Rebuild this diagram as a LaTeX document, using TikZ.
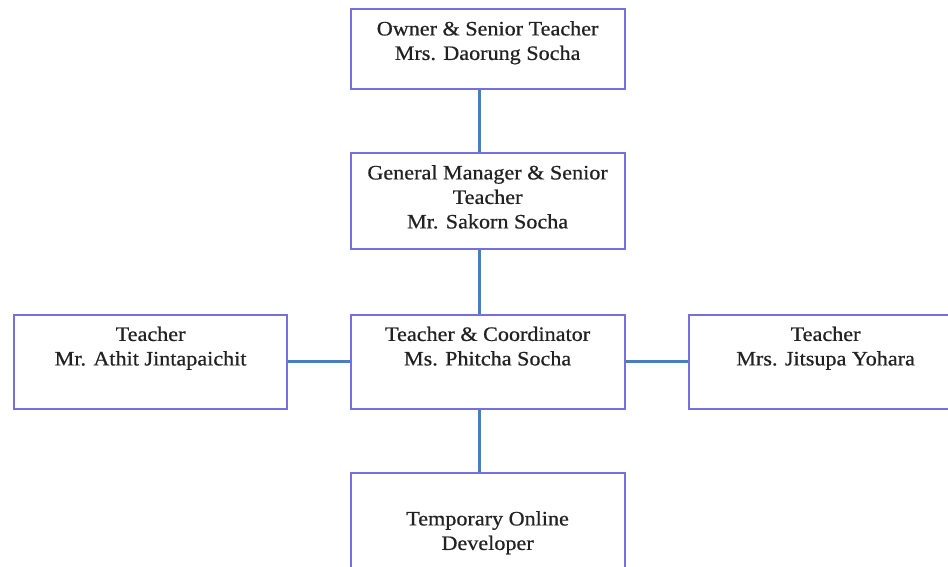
\documentclass[tikz,border=0pt]{standalone}
\usepackage{fontspec}
\setmainfont[FakeStretch=1.08,FakeBold=0.6]{Liberation Serif}
\definecolor{boxline}{HTML}{766FE0}
\definecolor{conn}{HTML}{4A7EBB}
\definecolor{txtc}{HTML}{222222}
\begin{document}
\begin{tikzpicture}[x=1pt,y=-1pt,
  box/.style={draw=boxline, line width=2.2pt, fill=white, rectangle, inner sep=0pt, anchor=north west},
  txt/.style={text=txtc, align=center, anchor=north, inner sep=0pt, font=\fontsize{20.5}{24.5}\selectfont},
  link/.style={draw=conn, line width=3pt}]
\useasboundingbox (0,0) rectangle (948,567);
\clip (0,0) rectangle (948,567);
% boxes
\node[box, minimum width=274pt, minimum height=80pt] (own) at (349.5,8) {};
\node[box, minimum width=274pt, minimum height=96pt] (gm) at (349.5,152) {};
\node[box, minimum width=274pt, minimum height=94pt] (coord) at (349.5,313.5) {};
\node[box, minimum width=273pt, minimum height=94pt] (left) at (13,313.5) {};
\node[box, minimum width=274pt, minimum height=94pt] (right) at (687.5,313.5) {};
\node[box, minimum width=274pt, minimum height=118pt] (dev) at (349.5,472) {};
% texts
\node[txt] (ownT) at ([yshift=-13]own.north) {Owner \& Senior Teacher\\Mrs. Daorung Socha};
\node[txt] (gmT) at ([yshift=-13]gm.north) {General Manager \& Senior\\Teacher\\Mr. Sakorn Socha};
\node[txt] (coordT) at ([yshift=-13]coord.north) {Teacher \& Coordinator\\Ms. Phitcha Socha};
\node[txt] (leftT) at ([yshift=-13]left.north) {Teacher\\Mr. Athit Jintapaichit};
\node[txt] (rightT) at ([yshift=-13]right.north) {Teacher\\Mrs. Jitsupa Yohara};
\node[txt] (devT) at ([yshift=-39]dev.north) {Temporary Online\\Developer};
% connectors
\draw[link] ([xshift=-8.5]own.south) -- ([xshift=-8.5]gm.north);
\draw[link] ([xshift=-8.5]gm.south) -- ([xshift=-8.5]coord.north);
\draw[link] ([xshift=-8.5]coord.south) -- ([xshift=-8.5]dev.north);
\draw[link] (left.east) -- (coord.west);
\draw[link] (coord.east) -- (right.west);
\end{tikzpicture}
\end{document}
